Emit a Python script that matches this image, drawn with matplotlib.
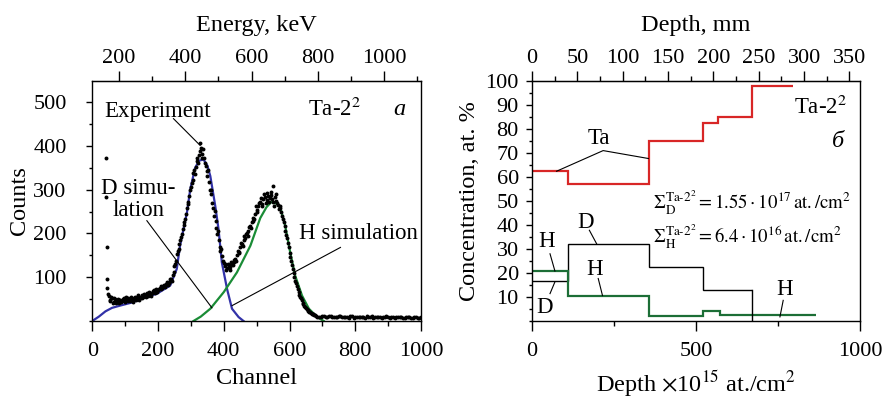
import matplotlib
matplotlib.use("Agg")
import matplotlib.pyplot as plt
from matplotlib.ticker import MultipleLocator
import numpy as np

plt.rcParams['font.family'] = ['Liberation Serif', 'DejaVu Serif']
plt.rcParams['mathtext.fontset'] = 'stix'

# ---------------- spectrum (left panel) ----------------
exp_channel = [42, 43, 44, 45, 46, 47,
               50, 55, 60, 65, 70, 75, 80, 85, 90, 95, 100, 105, 110, 115, 120, 125,
               130, 135, 140, 145, 150, 155, 160, 165, 170, 175, 180, 185, 190, 195,
               200, 205, 210, 215, 220, 225, 230, 235, 240, 245,
               250, 255, 260, 265, 270, 275, 280, 285, 290, 295, 300, 305, 310, 315,
               320, 325, 328, 330, 335, 340, 345, 350, 355, 360, 365, 370, 375, 380,
               385, 390, 395, 400, 405, 410, 415, 420, 425, 430, 435, 440, 445, 450,
               455, 460, 465, 470, 475, 480, 485, 490, 495, 500, 505, 510, 515, 520,
               525, 530, 535, 540, 545, 550, 551, 555, 560, 565, 570, 575, 580, 585,
               590, 595, 600, 605, 610, 615, 620, 625, 630, 635, 640, 645, 650, 655,
               660, 665, 670, 675, 680,
               690, 700, 710, 720, 730, 740, 750, 760, 770, 780, 790, 800, 810, 820,
               830, 840, 850, 860, 870, 880, 890, 900, 910, 920, 930, 940, 950, 960,
               970, 980, 990, 1000]
exp_counts = [373, 283, 170, 96, 75, 62,
              58, 47, 52, 44, 50, 46, 41, 49, 45, 52, 44, 49, 53, 46, 51, 47,
              55, 50, 57, 52, 60, 54, 58, 63, 57, 65, 61, 68, 64, 72,
              70, 76, 72, 80, 78, 85, 83, 92, 97, 104,
              125, 138, 160, 175, 192, 210, 226, 245, 266, 285, 306, 322, 345, 352,
              372, 378, 407, 395, 382, 372, 355, 330, 318, 290, 270, 240, 228, 198,
              184, 160, 148, 132, 126, 122, 128, 124, 131, 135, 142, 150, 158, 168,
              175, 186, 190, 202, 206, 218, 225, 236, 245, 254, 262, 272, 268, 278,
              282, 276, 285, 280, 288, 272, 308, 283, 275, 265, 258, 248, 232, 218,
              196, 178, 155, 138, 118, 100, 86, 72, 60, 52, 42, 35, 30, 25,
              21, 18, 16, 14, 12,
              10, 11, 9, 12, 10, 8, 11, 9, 10, 7, 11, 9, 8, 10,
              7, 9, 11, 8, 9, 7, 10, 8, 9, 7, 10, 8, 6, 9,
              7, 8, 6, 8]

# readings taken half-way between the channels above
exp2_channel = [52.5, 57.5, 62.5, 67.5, 72.5, 77.5, 82.5, 87.5, 92.5, 97.5,
                102.5, 107.5, 112.5, 117.5, 122.5, 127.5, 132.5, 137.5, 142.5, 147.5,
                152.5, 157.5, 162.5, 167.5, 172.5, 177.5, 182.5, 187.5, 192.5, 197.5,
                202.5, 207.5, 212.5, 217.5, 222.5, 227.5, 232.5, 237.5, 242.5, 247.5,
                252.5, 257.5, 262.5, 267.5, 272.5, 277.5, 282.5, 287.5, 292.5, 297.5,
                302.5, 307.5, 312.5, 317.5, 322.5, 327.5, 332.5, 337.5, 342.5, 347.5,
                352.5, 357.5, 362.5, 367.5, 372.5, 377.5, 382.5, 387.5, 392.5, 397.5,
                402.5, 407.5, 412.5, 417.5, 422.5, 427.5, 432.5, 437.5, 442.5, 447.5,
                452.5, 457.5, 462.5, 467.5, 472.5, 477.5, 482.5, 487.5, 492.5, 497.5,
                502.5, 507.5, 512.5, 517.5, 522.5, 527.5, 532.5, 537.5, 542.5, 547.5,
                552.5, 557.5, 562.5, 567.5, 572.5, 577.5, 582.5, 587.5, 592.5, 597.5,
                602.5, 607.5, 612.5, 617.5, 622.5, 627.5, 632.5, 637.5, 642.5, 647.5,
                652.5, 657.5, 662.5, 667.5, 672.5, 677.5,
                685, 695, 705, 715, 725, 735, 745, 755, 765, 775,
                785, 795, 805, 815, 825, 835, 845, 855, 865, 875,
                885, 895, 905, 915, 925, 935, 945, 955, 965, 975,
                985, 995]
exp2_counts = [45, 55, 42, 53, 41, 51, 47, 43, 50, 47,
               54, 45, 48, 55, 44, 52, 48, 59, 49, 55,
               53, 61, 55, 60, 66, 58, 64, 70, 67, 66,
               73, 80, 75, 83, 80, 88, 86, 95, 92, 112,
               130, 152, 165, 186, 198, 220, 232, 258, 272, 298,
               314, 338, 335, 365, 360, 388, 372, 392, 360, 342,
               345, 300, 300, 258, 252, 212, 205, 168, 165, 138,
               130, 117, 130, 116, 135, 128, 140, 138, 160, 155,
               178, 172, 195, 198, 195, 214, 212, 228, 232, 262,
               248, 270, 280, 262, 290, 270, 292, 272, 295, 278,
               262, 290, 270, 255, 262, 240, 225, 205, 190, 168,
               145, 128, 110, 92, 80, 66, 55, 47, 38, 33,
               27, 23, 20, 17, 15, 13,
               9, 10, 12, 8, 11, 9, 10, 12, 8, 9,
               11, 7, 10, 9, 8, 11, 9, 7, 10, 8,
               9, 11, 7, 8, 10, 9, 7, 8, 9, 7,
               8, 6]

d_sim_channel = [0, 20, 40, 60, 84, 125, 145, 196, 237, 257, 267, 288, 298, 313,
                 325, 338, 350, 359, 374, 384, 394, 410, 425, 445, 460]
d_sim_counts = [0, 10, 22, 30, 35, 43, 51, 62, 81, 119, 172, 248, 301, 350,
                366, 369, 355, 331, 263, 210, 134, 73, 28, 9, 0]

h_sim_channel = [308, 330, 359, 400, 440, 481, 511, 530, 545, 560, 572, 587, 602,
                 617, 638, 659, 684, 704]
h_sim_counts = [0, 10, 28, 66, 111, 172, 235, 260, 272, 268, 259, 217, 157,
                104, 58, 28, 9, 0]

energy_ticks = [200, 400, 600, 800, 1000]
energy_minor = [300, 500, 700, 900, 1100]

# energy scale of the detector: E = E0 + k * channel
energy_offset = 119.0
energy_per_channel = 0.993

# ---------------- depth profiles (right panel) ----------------
ta_depth = [0, 111, 358, 520, 568, 672, 797]
ta_conc = [62.4, 57.2, 75.2, 82.6, 84.8, 97.8]

d_depth = [0, 111, 358, 520, 672]
d_conc = [16.7, 32.0, 22.5, 12.8]

h_depth = [0, 111, 358, 522, 573, 866]
h_conc = [20.8, 10.6, 2.0, 4.3, 2.7]

mm_ticks = [0, 50, 100, 150, 200, 250, 300, 350]
mm_minor = [25, 75, 125, 175, 225, 275, 325]
mm_per_unit = 0.3616  # mm per 1e15 at./cm2

BLUE = '#3232a8'
GREEN_SIM = '#1a8c36'
RED = '#d82626'
GREEN_H = '#1c6e36'

TICK_FS = 16
LABEL_FS = 17.5
NOTE_FS = 16.5

fig = plt.figure(figsize=(8.85, 3.98), dpi=100)
ax1 = fig.add_axes([0.1043, 0.1935, 0.3714, 0.603])
ax2 = fig.add_axes([0.6011, 0.1935, 0.3706, 0.603])


def style_ticks(ax, pad):
    ax.tick_params(which='major', length=7, direction='out', width=1.0,
                   labelsize=TICK_FS, pad=pad)
    ax.tick_params(which='minor', length=3.5, direction='out', width=1.0)


def style_axes(ax, ypad):
    for s in ax.spines.values():
        s.set_linewidth(1.0)
    style_ticks(ax, 3)
    ax.tick_params(axis='x', which='major', pad=8)
    ax.tick_params(axis='y', which='major', pad=ypad, length=4.5)
    ax.tick_params(axis='y', which='minor', length=2.5)


# ---- left panel ----
ax1.plot(d_sim_channel, d_sim_counts, color=BLUE, lw=1.6, zorder=2)
ax1.plot(h_sim_channel, h_sim_counts, color=GREEN_SIM, lw=1.6, zorder=2)
ax1.scatter(exp_channel, exp_counts, s=8, color='black', zorder=3, linewidths=0)
ax1.scatter(exp2_channel, exp2_counts, s=8, color='black', zorder=3, linewidths=0)
ax1.set_xlim(0, 1000)
ax1.set_ylim(0, 548)
ax1.xaxis.set_major_locator(MultipleLocator(200))
ax1.xaxis.set_minor_locator(MultipleLocator(100))
ax1.set_yticks([100, 200, 300, 400, 500])
ax1.yaxis.set_minor_locator(MultipleLocator(50))
style_axes(ax1, 14)
ax1.set_xlabel('Channel', fontsize=LABEL_FS, labelpad=5)
ax1.set_ylabel('Counts', fontsize=LABEL_FS, labelpad=2)

top1 = ax1.secondary_xaxis(
    'top',
    functions=(lambda c: energy_offset + energy_per_channel * np.asarray(c),
               lambda e: (np.asarray(e) - energy_offset) / energy_per_channel))
top1.set_xticks(energy_ticks)
top1.set_xticks(energy_minor, minor=True)
style_ticks(top1, 2)
top1.set_xlabel('Energy, keV', fontsize=LABEL_FS, labelpad=13)

ax1.text(200, 478, 'Experiment', fontsize=NOTE_FS, ha='center', va='center')
ax1.plot([247, 328], [462, 401], color='black', lw=0.8)
ax1.text(655, 482, r'Ta-2$^2$', fontsize=NOTE_FS, ha='left', va='center')
ax1.text(935, 482, 'а', fontsize=NOTE_FS + 1, ha='center', va='center',
         style='italic')
ax1.text(140, 278, 'D simu-\nlation', fontsize=NOTE_FS, ha='center', va='center',
         linespacing=1.05)
ax1.plot([166, 364], [229, 30], color='black', lw=0.8)
ax1.text(992, 199, 'H simulation', fontsize=NOTE_FS, ha='right', va='center')
ax1.plot([755, 425], [168, 35], color='black', lw=0.8)

# ---- right panel ----
ax2.stairs(ta_conc, ta_depth, color=RED, lw=1.6, baseline=None)
ax2.stairs(d_conc, d_depth, color='black', lw=1.0, baseline=None)
ax2.plot([d_depth[-1], d_depth[-1]], [d_conc[-1], 0], color='black', lw=1.0)
ax2.stairs(h_conc, h_depth, color=GREEN_H, lw=1.6, baseline=None)
ax2.set_xlim(0, 1000)
ax2.set_ylim(0, 100)
ax2.xaxis.set_major_locator(MultipleLocator(500))
ax2.xaxis.set_minor_locator(MultipleLocator(250))
ax2.set_yticks(range(10, 101, 10))
ax2.yaxis.set_minor_locator(MultipleLocator(5))
style_axes(ax2, 5)
ax2.set_xlabel(r'Depth $\times$10$^{15}$ at./cm$^2$', fontsize=LABEL_FS, labelpad=5)
ax2.set_ylabel('Concentration, at. %', fontsize=LABEL_FS, labelpad=4)

top2 = ax2.secondary_xaxis(
    'top',
    functions=(lambda d: np.asarray(d) * mm_per_unit,
               lambda m: np.asarray(m) / mm_per_unit))
top2.set_xticks(mm_ticks)
top2.set_xticks(mm_minor, minor=True)
style_ticks(top2, 2)
top2.set_xlabel('Depth, mm', fontsize=LABEL_FS, labelpad=13)

ax2.text(205, 76, 'Ta', fontsize=NOTE_FS, ha='center', va='center')
ax2.plot([75, 217, 355], [62.4, 71, 67.7], color='black', lw=0.8)
ax2.text(962, 89, r'Ta-2$^2$', fontsize=NOTE_FS, ha='right', va='center')
ax2.text(933, 74.6, 'б', fontsize=NOTE_FS + 1, ha='center', va='center',
         style='italic')

ax2.text(162, 41, 'D', fontsize=NOTE_FS, ha='center', va='center')
ax2.plot([175, 197], [37.8, 32.2], color='black', lw=0.8)
ax2.text(45, 33, 'H', fontsize=NOTE_FS, ha='center', va='center')
ax2.plot([55, 70], [28, 20.8], color='black', lw=0.8)
ax2.text(38, 5.8, 'D', fontsize=NOTE_FS, ha='center', va='center')
ax2.plot([55, 70], [11.4, 16.3], color='black', lw=0.8)
ax2.text(192, 21.4, 'H', fontsize=NOTE_FS, ha='center', va='center')
ax2.plot([202, 215], [17.7, 10.6], color='black', lw=0.8)
ax2.text(771, 13, 'H', fontsize=NOTE_FS, ha='center', va='center')
ax2.plot([766, 756], [8.6, 1.7], color='black', lw=0.8)

ax2.text(369, 49,
         r'$\Sigma_{\mathrm{D}}^{\mathrm{Ta}\text{-}2^{2}} = 1.55\cdot10^{17}\,\mathrm{at./cm^{2}}$',
         fontsize=13.5, ha='left', va='center')
ax2.text(369, 35,
         r'$\Sigma_{\mathrm{H}}^{\mathrm{Ta}\text{-}2^{2}} = 6.4\cdot10^{16}\,\mathrm{at./cm^{2}}$',
         fontsize=13.5, ha='left', va='center')

fig.savefig('out.png', dpi=100)
